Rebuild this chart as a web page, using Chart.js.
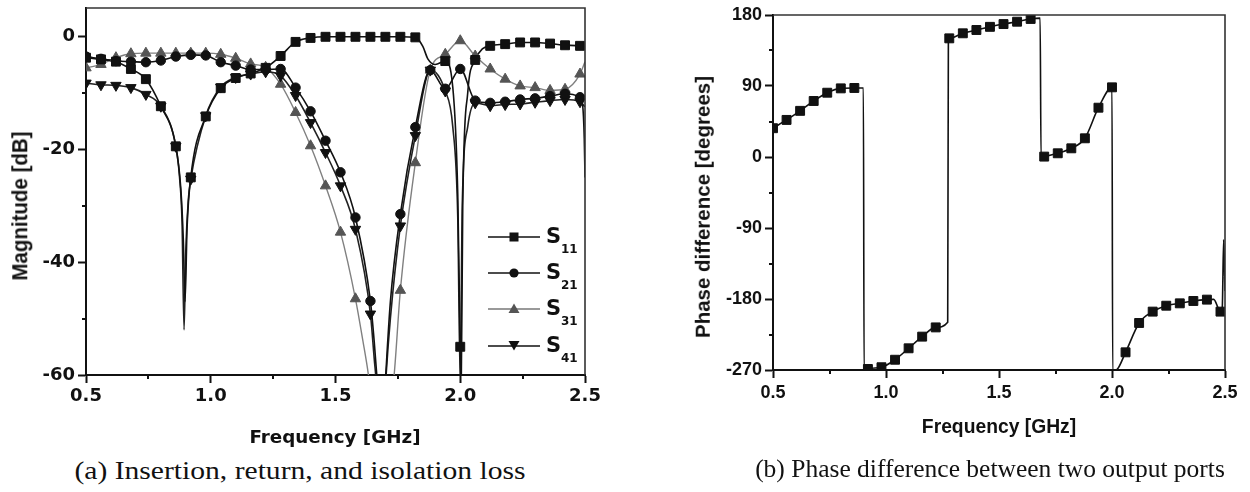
<!DOCTYPE html>
<html><head><meta charset="utf-8">
<script src="https://cdn.jsdelivr.net/npm/chart.js@4.4.1/dist/chart.umd.min.js"></script>
<style>
html,body{margin:0;padding:0;background:#fff;}
#wrap{position:relative;width:1250px;height:492px;overflow:hidden;background:#fff;}
canvas{position:absolute;}
.t{position:absolute;white-space:nowrap;line-height:1;color:#111;}
.b{font-weight:bold;}
</style></head><body>
<div id="wrap">
<canvas id="c1" width="620" height="455" style="left:0;top:0;width:620px;height:455px"></canvas>
<canvas id="c2" width="610" height="455" style="left:640px;top:0;width:610px;height:455px"></canvas>

<div class="t b" style="left:20px;top:206px;font-family:'Liberation Sans';font-size:20.5px;transform:translate(-50%,-50%) rotate(-90deg) scaleY(1.12)">Magnitude [dB]</div>
<div class="t b" style="left:335px;top:437px;font-family:'DejaVu Sans';font-size:18.3px;transform:translate(-50%,-50%)">Frequency [GHz]</div>
<div class="t" style="left:300px;top:471px;font-family:'Liberation Serif';font-size:25.5px;transform:translate(-50%,-50%) scaleX(1.16)">(a) Insertion, return, and isolation loss</div>

<div class="t b" style="left:703px;top:207px;font-family:'Liberation Sans';font-size:20.5px;transform:translate(-50%,-50%) rotate(-90deg)">Phase difference [degrees]</div>
<div class="t b" style="left:999px;top:427px;font-family:'Liberation Sans';font-size:19.3px;transform:translate(-50%,-50%)">Frequency [GHz]</div>
<div class="t" style="left:990px;top:469px;font-family:'Liberation Serif';font-size:25.5px;transform:translate(-50%,-50%)">(b) Phase difference between two output ports</div>

<svg style="position:absolute;left:480px;top:220px" width="70" height="140">
  <g stroke-width="1.6">
    <line x1="8" y1="17" x2="60" y2="17" stroke="#111"/>
    <rect x="29.5" y="12.5" width="9" height="9" fill="#111"/>
    <line x1="8" y1="53" x2="60" y2="53" stroke="#111"/>
    <circle cx="34" cy="53" r="4.6" fill="#111"/>
    <line x1="8" y1="89" x2="60" y2="89" stroke="#777"/>
    <polygon points="34,83.5 28.5,93 39.5,93" fill="#555"/>
    <line x1="8" y1="126" x2="60" y2="126" stroke="#111"/>
    <polygon points="28.5,121 39.5,121 34,130.5" fill="#111"/>
  </g>
</svg>
<div id="leg"></div>
</div>
<script>
// ---------- axis ticks ----------
const freqTicks = [0.5, 1.0, 1.5, 2.0, 2.5];
const freqMinor = [0.75, 1.25, 1.75, 2.25];
const magTicks = [0, -20, -40, -60];
const magMinor = [-10, -30, -50];
const phaseTicks = [180, 90, 0, -90, -180, -270];
const phaseMinor = [135, 45, -45, -135, -225];
const markerStart = 0.5, markerStep = 0.06;

// ---------- S-parameter magnitudes (GHz, dB) ----------
const s11Freq = [0.50,0.56,0.62,0.68,0.74,0.80,0.86,0.88,0.89,0.897,0.905,0.92,0.98,1.04,1.10,1.16,1.22,1.28,1.34,1.40,1.46,1.52,1.58,1.64,1.70,1.76,1.82,1.85,1.87,1.90,1.94,1.97,1.99,2.00,2.003,2.01,2.03,2.06,2.09,2.12,2.18,2.24,2.30,2.36,2.42,2.48,2.50];
const s11Mag  = [-3.8,-4.1,-4.5,-5.8,-7.6,-12.4,-19.5,-27,-36,-47,-34,-25,-14.2,-9.2,-7.4,-6.6,-5.6,-3.5,-1.0,-0.3,-0.1,-0.1,-0.1,-0.1,-0.1,-0.1,-0.2,-1.8,-4.0,-5.0,-4.4,-9,-28,-55,-66,-30,-10,-4.2,-2.2,-1.7,-1.4,-1.1,-1.1,-1.3,-1.6,-1.7,-2.0];

const s21Freq = [0.50,0.56,0.62,0.68,0.74,0.80,0.86,0.92,0.98,1.04,1.10,1.16,1.22,1.28,1.34,1.40,1.46,1.52,1.58,1.64,1.655,1.667,1.685,1.70,1.72,1.76,1.82,1.88,1.94,2.00,2.06,2.12,2.18,2.24,2.30,2.36,2.42,2.48,2.49,2.497,2.50];
const s21Mag  = [-3.6,-4.0,-4.4,-4.5,-4.6,-4.3,-3.6,-3.3,-3.4,-4.6,-5.2,-5.9,-5.9,-5.8,-9.1,-13.3,-18.5,-24.1,-32.1,-46.9,-54,-61,-72,-61,-47,-31.5,-16.1,-6.0,-9.3,-5.8,-11.4,-11.8,-11.6,-11.2,-11.0,-10.6,-10.2,-10.8,-12,-18,-25];

const s31Freq = [0.50,0.56,0.62,0.68,0.74,0.80,0.86,0.92,0.98,1.04,1.10,1.16,1.22,1.28,1.34,1.40,1.46,1.52,1.58,1.61,1.632,1.64,1.67,1.70,1.735,1.76,1.82,1.88,1.94,2.00,2.06,2.12,2.18,2.24,2.30,2.36,2.42,2.48,2.50];
const s31Mag  = [-5.6,-5.0,-3.8,-3.1,-3.0,-3.0,-3.0,-3.0,-3.0,-3.2,-3.9,-4.9,-5.5,-8.5,-13.5,-19.4,-26.5,-34.7,-46.5,-54,-60,-63,-72,-72,-60,-45,-22.4,-6.0,-3.2,-0.8,-3.5,-5.8,-7.6,-8.8,-9.1,-9.6,-9.4,-6.7,-4.5];

const s41Freq = [0.50,0.56,0.62,0.68,0.74,0.80,0.86,0.875,0.885,0.893,0.90,0.91,0.92,0.98,1.04,1.10,1.16,1.22,1.28,1.34,1.40,1.46,1.52,1.58,1.64,1.655,1.665,1.685,1.70,1.72,1.76,1.82,1.88,1.94,1.97,1.99,2.00,2.008,2.03,2.06,2.12,2.18,2.24,2.30,2.36,2.42,2.48,2.50];
const s41Mag  = [-8.3,-8.6,-8.7,-9.1,-10.3,-12.4,-19.5,-25,-33,-52,-38,-29,-25.3,-14.1,-9.0,-7.3,-6.7,-6.3,-7.0,-10.5,-15.3,-20.6,-26.5,-34.2,-49.2,-57,-62,-75,-62,-50,-33.6,-17.6,-6.0,-9.7,-16,-32,-61,-30,-16,-11.8,-12.3,-12.1,-12.0,-11.7,-11.4,-11.2,-11.6,-12.5];

// ---------- phase difference (GHz, degrees) ----------
const phaseFreq = [0.50,0.56,0.62,0.68,0.74,0.80,0.86,0.90,0.903,0.92,0.98,1.04,1.10,1.16,1.22,1.273,1.276,1.28,1.34,1.40,1.46,1.52,1.58,1.64,1.682,1.686,1.70,1.76,1.82,1.88,1.94,2.00,2.003,2.02,2.06,2.12,2.18,2.24,2.30,2.36,2.42,2.45,2.48,2.488,2.494,2.50];
const phaseDeg  = [36.5,47,58.5,71,81.5,87,87.5,87.5,-272,-268.7,-266.5,-257,-242.5,-227.7,-216,-209.5,150,150.4,156.8,161,165,168.5,171.5,175,176,0,0.5,4.7,11,23.7,62.5,88.3,-271,-270,-247.6,-210.4,-196,-188.5,-185.5,-182.5,-180.8,-180.5,-196,-190,-105,-170];

// ---------- legend text ----------
const legendNames = [['S','11'],['S','21'],['S','31'],['S','41']];
const legendRowY = [237, 273, 309, 346];
const leg = document.getElementById('leg');
legendNames.forEach((n, i) => {
  const s = document.createElement('div');
  s.className = 't b';
  s.style.cssText = `left:546px;top:${legendRowY[i]}px;font-family:'DejaVu Sans';font-size:21px;transform:translateY(-52%)`;
  s.textContent = n[0];
  leg.appendChild(s);
  const sub = document.createElement('div');
  sub.className = 't b';
  sub.style.cssText = `left:561px;top:${legendRowY[i] + 12}px;font-family:'DejaVu Sans';font-size:12px;transform:translateY(-50%)`;
  sub.textContent = n[1];
  leg.appendChild(sub);
});

// ---------- helpers ----------
const isGrid = f => { const k = (f - markerStart) / markerStep; return Math.abs(k - Math.round(k)) < 1e-6; };
const pts = (fs, vs) => fs.map((f, i) => ({x: f, y: vs[i]}));
function lineDs(label, fs, vs, color, w) {
  return {label, data: pts(fs, vs), borderColor: color, borderWidth: w, pointRadius: 0,
          cubicInterpolationMode: 'monotone', fill: false};
}
function markDs(label, fs, vs, color, style, r, rot) {
  return {label, data: pts(fs, vs).filter(p => isGrid(p.x)), showLine: false,
          pointStyle: style, pointRadius: r, pointRotation: rot || 0,
          pointBackgroundColor: color, pointBorderColor: color, pointBorderWidth: 1};
}
const framePlugin = {
  id: 'frame',
  afterDraw(chart, args, o) {
    const {ctx, chartArea: a, scales} = chart;
    ctx.save();
    ctx.strokeStyle = o.frameColor; ctx.lineWidth = o.frameWidth;
    ctx.beginPath(); ctx.moveTo(a.left, a.top); ctx.lineTo(a.right, a.top); ctx.lineTo(a.right, a.bottom); ctx.stroke();
    ctx.strokeStyle = '#111'; ctx.lineWidth = 2;
    ctx.beginPath();
    o.xMinor.forEach(v => { const p = Math.round(scales.x.getPixelForValue(v)); ctx.moveTo(p, a.bottom); ctx.lineTo(p, a.bottom + o.len); });
    o.yMinor.forEach(v => { const p = Math.round(scales.y.getPixelForValue(v)); ctx.moveTo(a.left, p); ctx.lineTo(a.left - o.len, p); });
    ctx.stroke();
    ctx.restore();
  }
};
function axis(min, max, ticks, font, pad, fitFn, fmt) {
  return {
    type: 'linear', min, max,
    afterBuildTicks: s => { s.ticks = ticks.map(v => ({value: v})); },
    ticks: {font, color: '#111', padding: pad, maxRotation: 0, autoSkip: false, callback: fmt},
    grid: {drawOnChartArea: false, drawTicks: true, tickLength: 8, tickColor: '#111', tickWidth: 2},
    border: {display: true, color: '#111', width: 2},
    afterFit: fitFn
  };
}

// ---------- chart (a) ----------
const fontA = {family: "'DejaVu Sans'", weight: 'bold', size: 18};
new Chart(document.getElementById('c1'), {
  type: 'line',
  data: {datasets: [
    markDs('S11', s11Freq, s11Mag, '#111', 'rect', 6.3),
    markDs('S21', s21Freq, s21Mag, '#111', 'circle', 4.7),
    markDs('S41', s41Freq, s41Mag, '#111', 'triangle', 6, 180),
    markDs('S31', s31Freq, s31Mag, '#555', 'triangle', 6),
    lineDs('S11 line', s11Freq, s11Mag, '#111', 1.6),
    lineDs('S21 line', s21Freq, s21Mag, '#111', 1.6),
    lineDs('S41 line', s41Freq, s41Mag, '#222', 1.6),
    lineDs('S31 line', s31Freq, s31Mag, '#808080', 1.4)
  ]},
  options: {
    responsive: false, animation: false, events: [],
    layout: {padding: {top: 8, right: 35, left: 0, bottom: 0}},
    scales: {
      x: axis(0.5, 2.5, freqTicks, fontA, 3, s => { s.height = 80; s.paddingLeft = 0; s.paddingRight = 0; }, v => v.toFixed(1)),
      y: axis(-60, 5, magTicks, fontA, 3, s => { s.width = 86; s.paddingTop = 0; s.paddingBottom = 0; }, v => String(v))
    },
    plugins: {legend: {display: false}, tooltip: {enabled: false},
      frame: {frameColor: '#333', frameWidth: 1.6, xMinor: freqMinor, yMinor: magMinor, len: 4}}
  },
  plugins: [framePlugin]
});

// ---------- chart (b) ----------
const fontB = {family: "'Liberation Sans'", weight: 'bold', size: 18};
new Chart(document.getElementById('c2'), {
  type: 'line',
  data: {datasets: [
    markDs('Phase', phaseFreq, phaseDeg, '#111', 'rect', 6.3),
    lineDs('Phase line', phaseFreq, phaseDeg, '#111', 1.6)
  ]},
  options: {
    responsive: false, animation: false, events: [],
    layout: {padding: {top: 15, right: 25, left: 0, bottom: 0}},
    scales: {
      x: axis(0.5, 2.5, freqTicks, fontB, 4, s => { s.height = 85; s.paddingLeft = 0; s.paddingRight = 0; }, v => v.toFixed(1)),
      y: axis(-270, 180, phaseTicks, fontB, 3, s => { s.width = 133; s.paddingTop = 0; s.paddingBottom = 0; }, v => String(v))
    },
    plugins: {legend: {display: false}, tooltip: {enabled: false},
      frame: {frameColor: '#333', frameWidth: 1.6, xMinor: freqMinor, yMinor: phaseMinor, len: 4}}
  },
  plugins: [framePlugin]
});
</script>
</body></html>
